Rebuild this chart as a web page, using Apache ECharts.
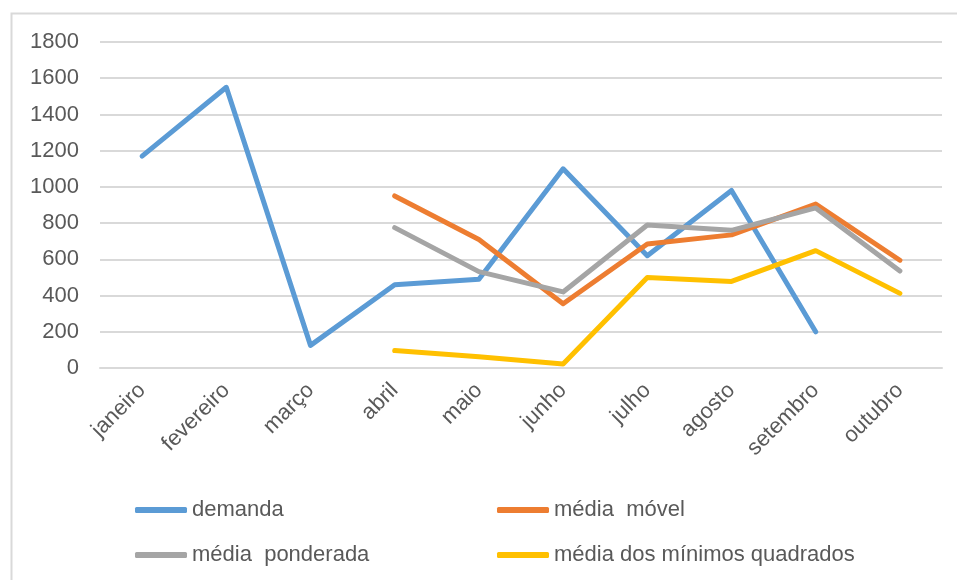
<!DOCTYPE html>
<html>
<head>
<meta charset="utf-8">
<script src="https://cdn.jsdelivr.net/npm/echarts@6/dist/echarts.min.js"></script>
<style>
html,body{margin:0;padding:0;background:#fff;}
#chart{width:957px;height:580px;}
</style>
</head>
<body>
<div id="chart"></div>
<script>
var categories = ['janeiro','fevereiro','março','abril','maio','junho','julho','agosto','setembro','outubro'];
var demanda = [1170, 1550, 125, 460, 490, 1100, 620, 980, 200, null];
var mediaMovel = [null, null, null, 950, 710, 355, 685, 735, 905, 595];
var mediaPonderada = [null, null, null, 775, 532, 420, 790, 760, 884, 535];
var mediaMinimos = [null, null, null, 96, 62, 22, 500, 478, 648, 412];
var yTicks = {min: 0, max: 1800, interval: 200};

var names = ['demanda', 'média  móvel', 'média  ponderada', 'média dos mínimos quadrados'];
var colors = ['#5b9bd5', '#ed7d31', '#a5a5a5', '#ffc000'];
var dataSets = [demanda, mediaMovel, mediaPonderada, mediaMinimos];

var font = 'Liberation Sans, Arial, sans-serif';
var textColor = '#595959';

var legendPos = [[135, 499], [497, 499], [135, 544], [497, 544]];

var chart = echarts.init(document.getElementById('chart'), null, {renderer: 'canvas'});
chart.setOption({
  animation: false,
  backgroundColor: '#fff',
  graphic: [{
    type: 'rect',
    shape: {x: 11.5, y: 13.5, width: 960, height: 580},
    style: {fill: 'none', stroke: '#d9d9d9', lineWidth: 2},
    silent: true
  }],
  grid: {left: 100, right: 15, top: 42, bottom: 212, containLabel: false},
  legend: names.map(function (n, i) {
    return {
      data: [n],
      left: legendPos[i][0],
      top: legendPos[i][1],
      orient: 'horizontal',
      icon: 'roundRect',
      itemWidth: 52,
      itemHeight: 6,
      itemGap: 5,
      padding: 0,
      textStyle: {fontFamily: font, fontSize: 22, color: textColor}
    };
  }),
  xAxis: {
    type: 'category',
    data: categories,
    boundaryGap: true,
    axisLine: {show: true, lineStyle: {color: '#d9d9d9', width: 2}},
    axisTick: {show: false},
    axisLabel: {rotate: 45, margin: 19, fontFamily: font, fontSize: 22, color: textColor, interval: 0}
  },
  yAxis: {
    type: 'value',
    min: yTicks.min,
    max: yTicks.max,
    interval: yTicks.interval,
    axisLine: {show: false},
    axisTick: {show: false},
    splitLine: {lineStyle: {color: '#d9d9d9', width: 2}},
    axisLabel: {margin: 21, fontFamily: font, fontSize: 22, color: textColor,
      formatter: function (v) { return String(v); }}
  },
  series: dataSets.map(function (d, i) {
    return {
      name: names[i],
      type: 'line',
      data: d,
      symbol: 'none',
      connectNulls: false,
      color: colors[i],
      lineStyle: {width: 5, color: colors[i], cap: 'round', join: 'round'},
      z: 2 + i
    };
  })
});
</script>
</body>
</html>
